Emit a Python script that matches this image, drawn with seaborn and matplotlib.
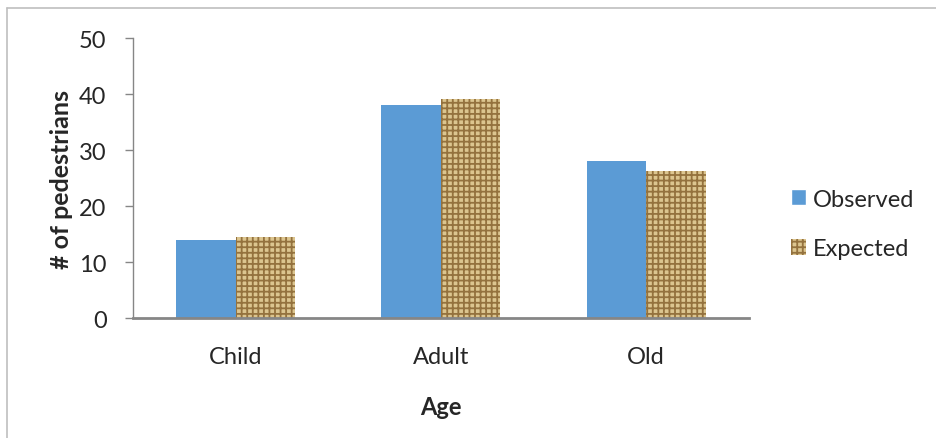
import seaborn as sns
import pandas as pd
import matplotlib
matplotlib.use("Agg")
from matplotlib import pyplot as plt
from matplotlib.patches import Patch
from matplotlib.lines import Line2D

# values
ages = ["Child", "Adult", "Old"]
observed = [14.0, 38.0, 28.0]
expected = [14.4, 39.1, 26.3]
series = ["Observed", "Expected"]
yticks = [0, 10, 20, 30, 40, 50]

blue = "#5b9bd5"
burlap = "#dcc58f"
burlap_dark = "#94723e"

df = pd.DataFrame({
    "Age": ages * 2,
    "count": observed + expected,
    "series": [series[0]] * len(ages) + [series[1]] * len(ages),
})

sns.set_style("white")
plt.rcParams["font.family"] = ["Lato", "DejaVu Sans"]
plt.rcParams["hatch.linewidth"] = 1.3

fig = plt.figure(figsize=(9.36, 4.39), dpi=100)
ax = fig.add_axes([0.142, 0.273, 0.658, 0.638])

sns.barplot(data=df, x="Age", y="count", hue="series", hue_order=series,
            palette=[blue, burlap], width=0.58, gap=0, saturation=1,
            legend=False, ax=ax)

# burlap-like texture for the expected bars
for bar in ax.containers[1]:
    bar.set_hatch("+++")
    bar.set_edgecolor(burlap_dark)
    bar.set_linewidth(0)
for bar in ax.containers[0]:
    bar.set_linewidth(0)

ax.set_ylim(0, 50)
ax.set_yticks(yticks)
ax.set_xlim(-0.5, 2.5)
ax.tick_params(axis="y", length=6, width=1, color="#868686", labelsize=17, pad=13, direction="out", left=True)
ax.tick_params(axis="x", length=0, labelsize=17, pad=20)
for s in ["top", "right"]:
    ax.spines[s].set_visible(False)
for s in ["left", "bottom"]:
    ax.spines[s].set_color("#868686")
ax.spines["bottom"].set_linewidth(2)
ax.spines["left"].set_linewidth(1)

ax.set_xlabel("Age", fontsize=17, fontweight="bold", labelpad=20)
ax.set_ylabel("# of pedestrians", fontsize=18, fontweight="bold", labelpad=4)

handles = [Patch(facecolor=blue, label=series[0]),
           Patch(facecolor=burlap, edgecolor=burlap_dark, hatch="+++", linewidth=0, label=series[1])]
fig.legend(handles=handles, loc="center left", bbox_to_anchor=(0.822, 0.488),
           frameon=False, fontsize=17, handlelength=0.65, handleheight=0.65,
           handletextpad=0.3, labelspacing=1.2)

# chart frame (top and left edges visible)
fig.add_artist(Line2D([0.008, 1.0], [0.98, 0.98], transform=fig.transFigure, color="#bfbfbf", lw=1.2))
fig.add_artist(Line2D([0.008, 0.008], [0.0, 0.98], transform=fig.transFigure, color="#bfbfbf", lw=1.2))

plt.savefig("out.png", dpi=100)
